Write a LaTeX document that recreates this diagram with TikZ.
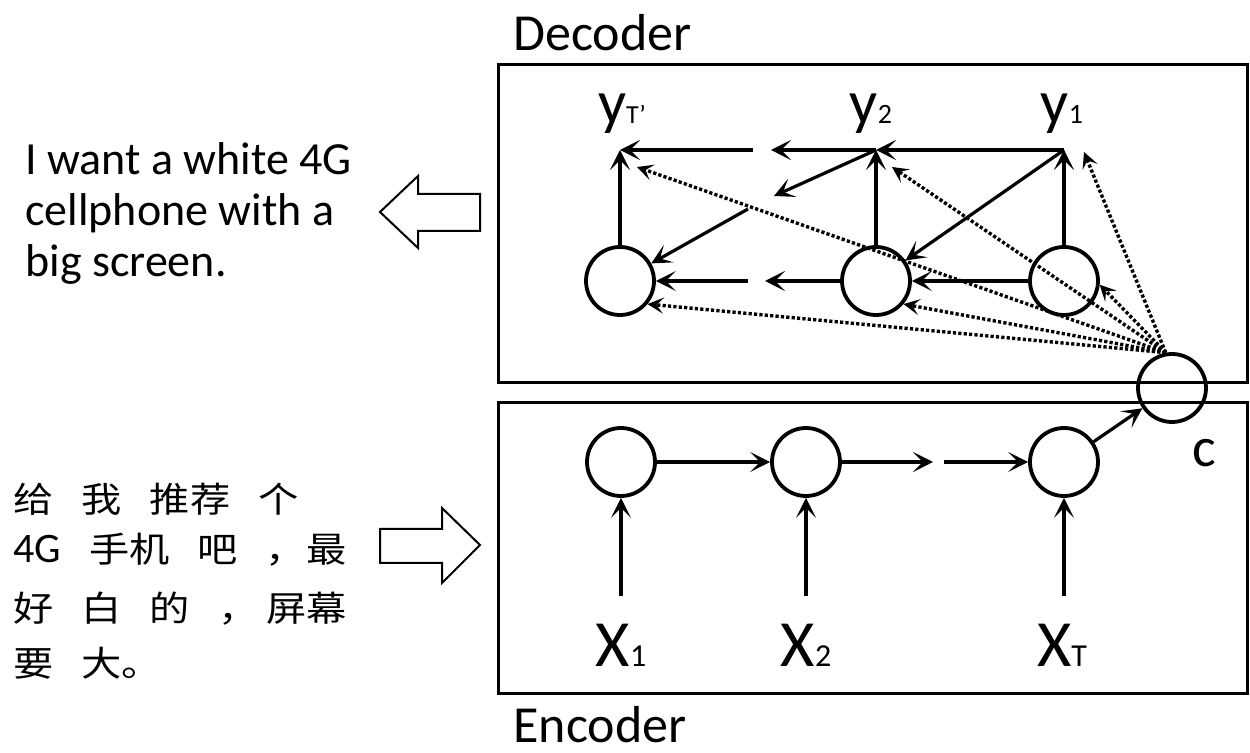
\documentclass[tikz,border=0pt]{standalone}
\usepackage{fontspec}
\setmainfont{Carlito}
\newfontfamily\cjk[FakeStretch=1.15]{Noto Sans CJK SC}
\usetikzlibrary{arrows.meta}

\newcommand{\subtxt}[2]{{\fontsize{#1}{#1}\selectfont #2}}
\newcommand{\cgap}{\hspace{14pt}}

\tikzset{
  cell/.style={circle, draw, line width=1.9pt, minimum size=34pt, inner sep=0pt},
  panel/.style={draw, line width=1.5pt},
  link/.style={line width=1.6pt, -{Stealth[length=10pt,width=10pt,inset=5pt]}},
  attn/.style={line width=1.7pt, dash pattern=on 1.6pt off 1.1pt,
    -{Stealth[length=8pt,width=8pt,inset=3.5pt]}},
  hollow/.style={draw, line width=1pt, line join=miter},
  title/.style={inner sep=0pt, anchor=base west, font=\fontsize{26pt}{26pt}\selectfont},
  sent/.style={inner sep=0pt, anchor=base west, font=\fontsize{23pt}{23pt}\selectfont},
  zh/.style={inner sep=0pt, anchor=base west, font=\cjk\fontsize{17.5pt}{17.5pt}\selectfont},
  ylab/.style={inner sep=0pt, anchor=base, font=\fontsize{31pt}{31pt}\selectfont},
  xlab/.style={inner sep=0pt, anchor=base, font=\fontsize{33pt}{33pt}\selectfont}
}

\begin{document}
\begin{tikzpicture}[x=0.5pt, y=-0.5pt]
  \useasboundingbox (0,0) rectangle (1250,753);

  % panels and titles
  \draw[panel] (498,65) rectangle (1247,383);
  \draw[panel] (498,403) rectangle (1247,694);
  \node[title] (dectitle) at (513,51) {Decoder};
  \node[title] (enctitle) at (513,743) {Encoder};

  % decoder
  \node[cell] (dL) at (620,281) {};
  \node[cell] (dM) at (876,281) {};
  \node[cell] (dR) at (1064,281) {};
  \coordinate (pT) at (620,150);
  \coordinate (p2) at (876,150);
  \coordinate (p1) at (1064,150);
  \node[ylab] (yT) at (622,124) {y\subtxt{13pt}{T'}};
  \node[ylab] (y2) at (871,124) {y\subtxt{14pt}{2}};
  \node[ylab] (y1) at (1062,124) {y\subtxt{14pt}{1}};

  % gaps in the broken lines
  \coordinate (ga) at (771,150);
  \coordinate (gb) at (753,150);
  \coordinate (gc) at (774,196);
  \coordinate (gd) at (748,209);
  \coordinate (ge) at (765,281);
  \coordinate (gf) at (748,281);

  \draw[link] (dL) -- (pT);
  \draw[link] (dM) -- (p2);
  \draw[link] (dR) -- (p1);
  \draw[link] (p1) -- (p2);
  \draw[link] (p2) -- (ga);
  \draw[link] (gb) -- (pT);
  \draw[link] (p1) -- (dM);
  \draw[link] (p2) -- (gc);
  \draw[link] (gd) -- (dL);
  \draw[link] (dR) -- (dM);
  \draw[link] (dM) -- (ge);
  \draw[link] (gf) -- (dL);

  % context vector
  \node[cell] (c) at (1172,388) {};
  \node[ylab, font=\fontsize{28pt}{28pt}\selectfont] (clab) at (1204,467) {c};
  \coordinate (qT) at (637,167);
  \coordinate (q2) at (892,167);
  \coordinate (q1) at (1084,152);
  \draw[attn] (c.100) -- (qT);
  \draw[attn] (c.100) -- (q2);
  \draw[attn] (c.100) -- (q1);
  \draw[attn] (c.100) -- (dL.-40);
  \draw[attn] (c.100) -- (dM.-40);
  \draw[attn] (c.100) -- (dR.-6);

  % encoder
  \node[cell] (eA) at (621,462) {};
  \node[cell] (eB) at (806,462) {};
  \node[cell] (eC) at (1064,462) {};
  \coordinate (gg) at (933,462);
  \coordinate (gh) at (944,462);
  \node[xlab] (xA) at (621,667) {X\subtxt{16pt}{1}};
  \node[xlab] (xB) at (806,667) {X\subtxt{16pt}{2}};
  \node[xlab] (xC) at (1062,667) {X\subtxt{16pt}{T}};
  \draw[link] (eA) -- (eB);
  \draw[link] (eB) -- (gg);
  \draw[link] (gh) -- (eC);
  \draw[link] (eC) -- (c);
  \draw[link, shorten <=14pt] (xA.north -| eA) -- (eA);
  \draw[link, shorten <=14pt] (xB.north -| eB) -- (eB);
  \draw[link, shorten <=14pt] (xC.north -| eC) -- (eC);

  % output sentence
  \node[sent] (out1) at (25,175) {I want a white 4G};
  \node[sent] (out2) at (25,226) {cellphone with a};
  \node[sent] (out3) at (25,277) {big screen.};
  \draw[hollow] (380,212) -- (418,176) -- (418,194) -- (480,194)
    -- (480,231) -- (418,231) -- (418,248) -- cycle;

  % input sentence
  \node[zh] (in1) at (13,513) {给\cgap 我\cgap 推荐\cgap 个};
  \node[zh] (in2) at (13,563) {{\rmfamily\fontsize{21pt}{21pt}\selectfont 4G}\cgap 手机\cgap 吧\cgap ，最};
  \node[zh] (in3) at (13,622) {好\cgap 白\cgap 的\cgap ，\hspace{4pt}屏幕};
  \node[zh] (in4) at (13,677) {要\cgap 大。};
  \draw[hollow] (480,545) -- (442,508) -- (442,529) -- (380,529)
    -- (380,563) -- (442,563) -- (442,583) -- cycle;
\end{tikzpicture}
\end{document}
